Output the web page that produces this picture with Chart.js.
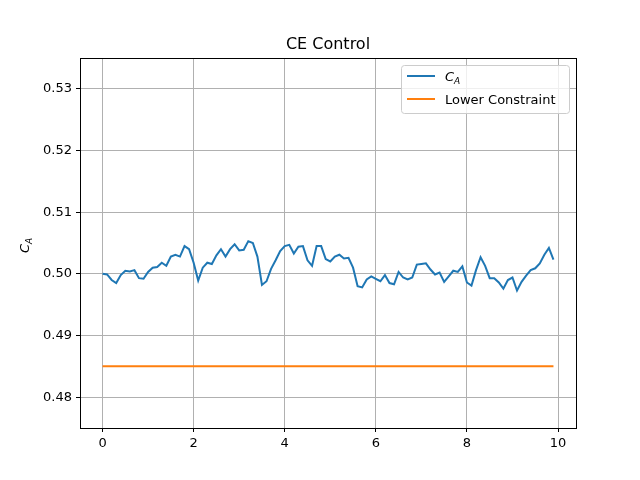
<!DOCTYPE html>
<html>
<head>
<meta charset="UTF-8">
<script src="https://cdn.jsdelivr.net/npm/chart.js"></script>
<style>
  body { margin: 0; background: #fff; }
  #wrap { width: 640px; height: 480px; }
</style>
</head>
<body>
<div id="wrap"><canvas id="c" width="640" height="480"></canvas></div>
<script>
  // C_A samples, t = 0..9.9 step 0.1
  const times = [];
  for (let i = 0; i < 100; i++) times.push(+(i * 0.1).toFixed(1));
  const caValues = [
    0.5000, 0.4999, 0.4990, 0.4985, 0.4998, 0.5005, 0.5004, 0.5006, 0.4993, 0.4992,
    0.5003, 0.5010, 0.5011, 0.5018, 0.5013, 0.5028, 0.5031, 0.5028, 0.5045, 0.5040,
    0.5018, 0.4989, 0.5010, 0.5018, 0.5016, 0.5030, 0.5040, 0.5028, 0.5040, 0.5048,
    0.5038, 0.5039, 0.5053, 0.5050, 0.5028, 0.4982, 0.4988, 0.5008, 0.5022, 0.5037,
    0.5045, 0.5047, 0.5033, 0.5044, 0.5045, 0.5022, 0.5013, 0.5045, 0.5045, 0.5024,
    0.5020, 0.5028, 0.5031, 0.5025, 0.5026, 0.5010, 0.4980, 0.4978, 0.4991, 0.4996,
    0.4992, 0.4988, 0.4998, 0.4985, 0.4983, 0.5003, 0.4994, 0.4991, 0.4994, 0.5015,
    0.5016, 0.5017, 0.5007, 0.4999, 0.5002, 0.4987, 0.4996, 0.5005, 0.5003, 0.5012,
    0.4986, 0.4981, 0.5006, 0.5027, 0.5013, 0.4993, 0.4993, 0.4986, 0.4976, 0.4990,
    0.4994, 0.4973, 0.4987, 0.4997, 0.5006, 0.5009, 0.5017, 0.5031, 0.5042, 0.5023
  ];
  const lowerConstraint = 0.485;
  const xTicks = [0, 2, 4, 6, 8, 10];
  const yTicks = [0.48, 0.49, 0.50, 0.51, 0.52, 0.53];

  const font = 'DejaVu Sans';

  // draw "C" with italic subscript "A"
  function drawCA(ctx, x, y, size) {
    ctx.save();
    ctx.font = 'italic ' + size + 'px "' + font + '"';
    ctx.textBaseline = 'alphabetic';
    ctx.textAlign = 'left';
    ctx.fillStyle = '#000';
    ctx.fillText('C', x, y);
    const w = ctx.measureText('C').width;
    ctx.font = 'italic ' + Math.round(size * 0.7) + 'px "' + font + '"';
    ctx.fillText('A', x + w, y + size * 0.2);
    ctx.restore();
  }

  const decor = {
    id: 'decor',
    afterDraw(chart) {
      const ctx = chart.ctx, a = chart.chartArea;
      ctx.save();
      ctx.strokeStyle = '#000';
      ctx.lineWidth = 1;
      ctx.strokeRect(a.left + 0.5, a.top + 0.5, a.right - a.left, a.bottom - a.top);
      // title
      ctx.font = '16px "' + font + '"';
      ctx.textAlign = 'center';
      ctx.fillStyle = '#000';
      ctx.fillText('CE Control', (a.left + a.right) / 2, 49);
      // y axis label (rotated)
      ctx.translate(29, (a.top + a.bottom) / 2 + 10);
      ctx.rotate(-Math.PI / 2);
      drawCA(ctx, 0, 0, 13);
      ctx.restore();
      // legend box
      ctx.save();
      const bx = 401, by = 65, bw = 168, bh = 48;
      ctx.fillStyle = 'rgba(255,255,255,0.8)';
      ctx.strokeStyle = '#cccccc';
      ctx.beginPath();
      ctx.roundRect(bx + 0.5, by + 0.5, bw, bh, 3);
      ctx.fill(); ctx.stroke();
      ctx.lineWidth = 2;
      ctx.strokeStyle = '#1f77b4';
      ctx.beginPath(); ctx.moveTo(407, 76); ctx.lineTo(435, 76); ctx.stroke();
      ctx.strokeStyle = '#ff7f0e';
      ctx.beginPath(); ctx.moveTo(407, 99); ctx.lineTo(435, 99); ctx.stroke();
      drawCA(ctx, 445, 81, 13);
      ctx.font = '13px "' + font + '"';
      ctx.fillStyle = '#000';
      ctx.fillText('Lower Constraint', 445, 104);
      ctx.restore();
    }
  };

  new Chart(document.getElementById('c'), {
    type: 'scatter',
    data: {
      datasets: [
        {
          data: times.map((t, i) => ({ x: t, y: caValues[i] })),
          showLine: true, borderColor: '#1f77b4', borderWidth: 2,
          pointRadius: 0, tension: 0
        },
        {
          data: times.map(t => ({ x: t, y: lowerConstraint })),
          showLine: true, borderColor: '#ff7f0e', borderWidth: 2,
          pointRadius: 0, tension: 0
        }
      ]
    },
    options: {
      responsive: false,
      animation: false,
      layout: { padding: { left: 0, right: 64, top: 58, bottom: 0 } },
      plugins: { legend: { display: false }, tooltip: { enabled: false } },
      scales: {
        x: {
          type: 'linear', min: -0.495, max: 10.395,
          afterBuildTicks: s => { s.ticks = xTicks.map(v => ({ value: v })); },
          afterFit: s => { s.height = 52; },
          grid: { color: '#b0b0b0', lineWidth: 1, tickLength: 4, tickColor: '#000' },
          border: { display: false },
          ticks: { color: '#000', font: { family: font, size: 13 }, padding: 4,
                   callback: v => String(v) }
        },
        y: {
          min: 0.475, max: 0.535,
          afterBuildTicks: s => { s.ticks = yTicks.map(v => ({ value: v })); },
          afterFit: s => { s.width = 80; },
          grid: { color: '#b0b0b0', lineWidth: 1, tickLength: 4, tickColor: '#000' },
          border: { display: false },
          ticks: { color: '#000', font: { family: font, size: 13 }, padding: 4,
                   callback: v => v.toFixed(2).replace(/0$/, '') === '0.5' ? '0.50' : v.toFixed(2).replace(/0$/, '') }
        }
      }
    },
    plugins: [decor]
  });
</script>
</body>
</html>
